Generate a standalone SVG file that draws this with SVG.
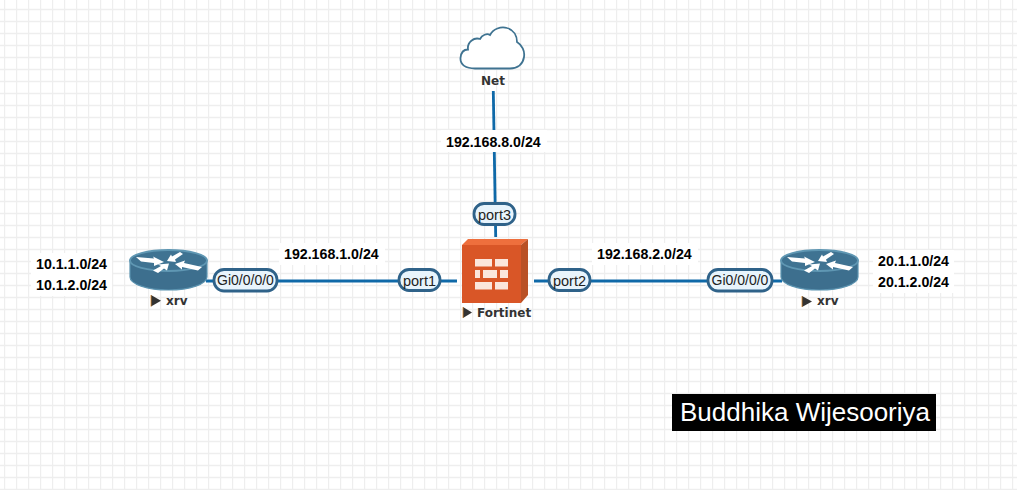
<svg xmlns="http://www.w3.org/2000/svg" width="1017" height="490" viewBox="0 0 1017 490">
<style>
.lbl{font-family:"Liberation Sans",Arial,sans-serif;font-size:14.2px;font-weight:700;fill:#000}
.bg{fill:#fff}
.name{font-family:"DejaVu Sans",sans-serif;font-size:12px;font-weight:700;fill:#333}
.port{fill:#e8f4fc;stroke:#2f6289;stroke-width:2.8}
.ptxt{font-family:"Liberation Sans",Arial,sans-serif;font-size:14.500px;fill:#222;text-anchor:middle}
.gi{font-size:14px}
.link{stroke:#0f69a8;stroke-width:2.8;fill:none}
.tri{fill:#333;stroke:none}
.edge{stroke:#e08a2c;stroke-width:.8;fill:none}
</style>
<defs>
<pattern id="grid" width="12" height="12" patternUnits="userSpaceOnUse" x="4" y="3">
<path d="M.5 0V12M0 6.5H12" stroke="#eeeeee" stroke-width="1.4" fill="none"/>
</pattern>
<g id="router">
<path d="M0 10V27C0 34 17 40 38.500 40S77 34 77 27V10Z" fill="#3d6f8e" stroke="#5b93b0" stroke-width="1.2"/>
<ellipse cx="38.500" cy="10.500" rx="38.500" ry="10.500" fill="#3f7392" stroke="#5f97b3" stroke-width="1.8"/>
<path d="M6 7 24 8.500 23 6.500 34 12 24 16 24 13 11 11.500ZM53 4 45 9.500 46 12 37 11 41 4.500 42 6.500 50 2ZM45 14 55 10.500 54 13 72 17 68 20.500 52 17 52 19.500ZM39 13.500 37 20.500 34 18.500 28 23 23 20.500 31 16 28 14.500Z" fill="#fff"/>
</g>
</defs>
<rect width="1017" height="490" fill="#fff"/>
<rect width="1017" height="490" fill="url(#grid)"/>
<g id="connectors">
<path class="link" d="M206 281H457"/>
<path class="link" d="M534 281H782"/>
<path class="link" d="M493.300 91 495.700 237"/>
</g>
<g id="net">
<path d="M475 68.500C466 68.500 460 65 460.500 58C461 52 464 49.500 468 49.500C467 42 474 37 480 39C482 35 487 33 490 35C493 29 501 26 507 28C514 30 517 36 517 42C522 45 525 51 524 57C523 64 518 68.500 510 68.500Z" fill="#fff" stroke="#3f7391" stroke-width="1.8"/>
<text class="name" x="493" y="85" text-anchor="middle">Net</text>
</g>
<g id="xrv-left">
<use href="#router" x="130" y="250"/>
<path class="tri" d="M151 295 161 300.700 151 306.500Z"/><path class="edge" d="M151 295V306.500"/>
<text class="name" x="166" y="305">xrv</text>
</g>
<g id="fortinet">
<path d="M462 245 468 239H528L521 245Z" fill="#ee6f3d"/>
<path d="M521 245 528 239V295L521 303Z" fill="#b95126"/>
<rect x="462" y="245" width="59" height="58" fill="#d95627"/>
<path d="M475 259H492V266.500H475ZM495 259H508V266.500H495ZM475 270H480V278H475ZM483 270H497V278H483ZM500 270H508V278H500ZM475 282H492V289.500H475ZM495 282H508V289.500H495Z" fill="#fbe6dc"/>
<path class="tri" d="M463 307 472 312.500 463 318Z"/><path class="edge" d="M463 307V318"/>
<text class="name" x="477" y="317">Fortinet</text>
</g>
<g id="xrv-right">
<use href="#router" x="781" y="250"/>
<path class="tri" d="M802 296 812 301.500 802 307Z"/><path class="edge" d="M802 296V307"/>
<text class="name" x="817" y="305">xrv</text>
</g>
<g id="port-gi-left"><rect class="port" x="214" y="269.500" width="63" height="21.500" rx="10"/><text class="ptxt gi" x="245.500" y="285">Gi0/0/0/0</text></g>
<g id="port-1"><rect class="port" x="399" y="269.500" width="41" height="21" rx="10"/><text class="ptxt" x="419.500" y="285.500">port1</text></g>
<g id="port-2"><rect class="port" x="549" y="269.500" width="41" height="21" rx="10"/><text class="ptxt" x="569.500" y="285.500">port2</text></g>
<g id="port-3"><rect class="port" x="474" y="203.500" width="41" height="21" rx="10"/><text class="ptxt" x="494.500" y="219.500">port3</text></g>
<g id="port-gi-right"><rect class="port" x="708" y="269.500" width="64" height="21.500" rx="10"/><text class="ptxt gi" x="740" y="285">Gi0/0/0/0</text></g>
<rect class="bg" x="441" y="130" width="106" height="22"/>
<rect class="bg" x="279" y="243" width="106" height="22"/>
<rect class="bg" x="592" y="243" width="106" height="22"/>
<rect class="bg" x="31" y="253" width="81" height="43"/>
<rect class="bg" x="873" y="250" width="81" height="43"/>
<text class="lbl" x="446" y="146.500">192.168.8.0/24</text>
<text class="lbl" x="284" y="259">192.168.1.0/24</text>
<text class="lbl" x="597" y="259">192.168.2.0/24</text>
<text class="lbl" x="36" y="269">10.1.1.0/24</text>
<text class="lbl" x="36" y="290">10.1.2.0/24</text>
<text class="lbl" x="878" y="266">20.1.1.0/24</text>
<text class="lbl" x="878" y="287">20.1.2.0/24</text>
<rect x="672" y="394" width="264" height="37" fill="#000"/>
<text x="680" y="421" font-family="'Liberation Sans',Arial,sans-serif" font-size="26px" fill="#fff">Buddhika Wijesooriya</text>
</svg>
